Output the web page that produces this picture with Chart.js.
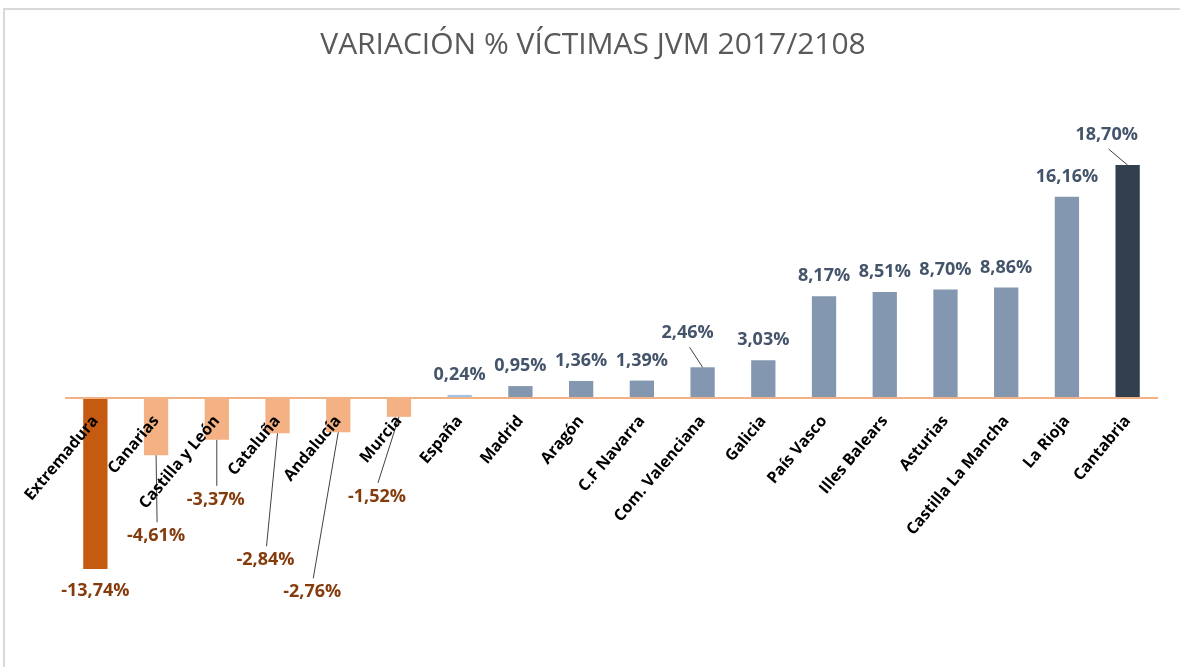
<!DOCTYPE html>
<html>
<head>
<meta charset="utf-8">
<title>Variación % víctimas JVM</title>
<script src="https://cdn.jsdelivr.net/npm/chart.js@4.4.1/dist/chart.umd.min.js"></script>
<style>
  html, body { margin: 0; padding: 0; background: #fff; }
  #wrap { width: 1180px; height: 667px; position: relative; }
</style>
</head>
<body>
<div id="wrap"><canvas id="chart" width="1180" height="667"></canvas></div>
<script>
// data
let regiones = [
  "Extremadura", "Canarias", "Castilla y León", "Cataluña", "Andalucía", "Murcia",
  "España", "Madrid", "Aragón", "C.F Navarra", "Com. Valenciana", "Galicia",
  "País Vasco", "Illes Balears", "Asturias", "Castilla La Mancha", "La Rioja", "Cantabria"
];
let variacion = [
  -13.74, -4.61, -3.37, -2.84, -2.76, -1.52,
  0.24, 0.95, 1.36, 1.39, 2.46, 3.03,
  8.17, 8.51, 8.70, 8.86, 16.16, 18.70
];
let titulo = "VARIACIÓN % VÍCTIMAS JVM 2017/2108";

// styling
let barColors = [
  "#C55A11", "#F4B183", "#F4B183", "#F4B183", "#F4B183", "#F4B183",
  "#9DC3E6", "#8497B0", "#8497B0", "#8497B0", "#8497B0", "#8497B0",
  "#8497B0", "#8497B0", "#8497B0", "#8497B0", "#8497B0", "#323F4F"
];
// label moved away from its default place (px), drawn with a leader line
let labelShift = [
  [0, 0], [0, 59], [-1, 38], [-12, 105], [-26, 138], [-22, 58],
  [0, 0], [0, 0], [0, 0], [0, 0], [-15, -14], [0, 0],
  [0, 0], [0, 0], [0, 0], [0, 0], [0, 0], [-21, -10]
];

function fmt(v) {
  return v.toFixed(2).replace(".", ",") + "%";
}

// light grey frame and the title (title sits a bit left of the plot centre)
let frame = {
  id: "frame",
  beforeDraw(chart) {
    let ctx = chart.ctx;
    ctx.save();
    ctx.fillStyle = "#D9D9D9";
    ctx.fillRect(3, 8, chart.width - 3, 2);
    ctx.fillRect(3, 8, 2, chart.height - 8);
    ctx.fillStyle = "#595959";
    ctx.font = "30px 'Open Sans'";
    ctx.textAlign = "center";
    ctx.textBaseline = "alphabetic";
    ctx.fillText(titulo, 593, 54);
    ctx.restore();
  }
};

let zeroLine = {
  id: "zeroLine",
  afterDatasetsDraw(chart) {
    let ctx = chart.ctx;
    let y = chart.scales.y.getPixelForValue(0);
    ctx.save();
    ctx.strokeStyle = "#F4B183";
    ctx.lineWidth = 2;
    ctx.beginPath();
    ctx.moveTo(chart.chartArea.left, y);
    ctx.lineTo(chart.chartArea.right, y);
    ctx.stroke();
    ctx.restore();
  }
};

let valueLabels = {
  id: "valueLabels",
  afterDatasetsDraw(chart) {
    let ctx = chart.ctx;
    let meta = chart.getDatasetMeta(0);
    ctx.save();
    ctx.font = "bold 18px 'Open Sans'";
    ctx.textAlign = "center";
    ctx.textBaseline = "middle";
    meta.data.forEach((bar, i) => {
      let v = variacion[i];
      let pos = v >= 0;
      let s = labelShift[i];
      let lx = bar.x + s[0];
      let ly = (pos ? bar.y - 20 : bar.y + 22) + s[1];
      if (s[0] !== 0 || s[1] !== 0) {
        ctx.strokeStyle = "#404040";
        ctx.lineWidth = 1;
        ctx.beginPath();
        ctx.moveTo(bar.x, bar.y);
        ctx.lineTo(lx + (pos ? 2 : 1), pos ? ly + 14 : ly - 14);
        ctx.stroke();
      }
      ctx.fillStyle = pos ? "#44546A" : "#843C0C";
      ctx.fillText(fmt(v), lx, ly);
    });
    ctx.restore();
  }
};

Chart.defaults.font.family = "'Open Sans', sans-serif";

new Chart(document.getElementById("chart"), {
  type: "bar",
  data: {
    labels: regiones,
    datasets: [{
      data: variacion,
      backgroundColor: barColors,
      borderWidth: 0,
      barPercentage: 0.4,
      categoryPercentage: 1
    }]
  },
  options: {
    responsive: false,
    animation: false,
    layout: { padding: { top: 124, left: 65, right: 22, bottom: 45 } },
    plugins: {
      legend: { display: false },
      tooltip: { enabled: false },
      title: { display: false }
    },
    scales: {
      x: {
        position: { y: 0 },
        grid: { display: false, drawTicks: false },
        border: { display: false },
        ticks: {
          z: 1,
          color: "#000",
          font: { size: 16, weight: "bold" },
          minRotation: 50,
          maxRotation: 50,
          autoSkip: false,
          padding: 14
        }
      },
      y: {
        display: false,
        min: -18,
        max: 22
      }
    }
  },
  plugins: [frame, zeroLine, valueLabels]
});
</script>
</body>
</html>
